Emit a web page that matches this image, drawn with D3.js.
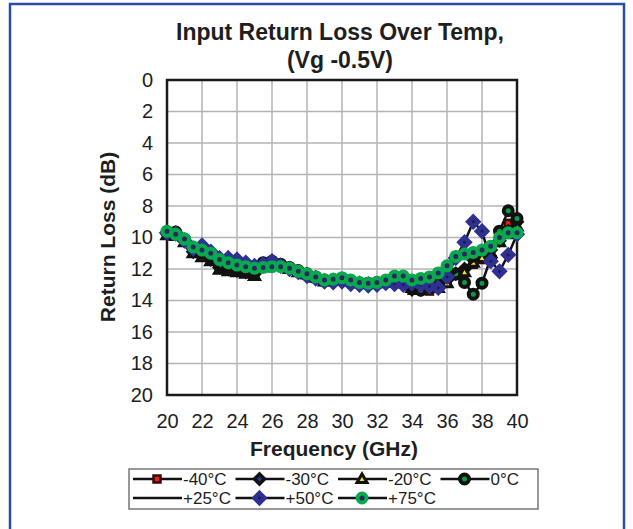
<!DOCTYPE html>
<html>
<head>
<meta charset="utf-8">
<script src="https://cdn.jsdelivr.net/npm/d3@7"></script>
<style>
  body { margin: 0; background: #fff; }
  text { font-family: "Liberation Sans", Arial, sans-serif; fill: #1e1e1e; }
</style>
</head>
<body>
<svg id="chart" width="633" height="529"></svg>
<script>
// frequency points (GHz)
let freqs = [20, 20.5, 21, 21.5, 22, 22.5, 23, 23.5, 24, 24.5, 25, 25.5, 26, 26.5, 27, 27.5,
    28, 28.5, 29, 29.5, 30, 30.5, 31, 31.5, 32, 32.5, 33, 33.5, 34, 34.5, 35, 35.5,
    36, 36.5, 37, 37.5, 38, 38.5, 39, 39.5, 40]

// return loss (dB) per temperature
let m40 = [9.8, 9.8, 10.25, 10.95, 11.2, 11.45, 12.0, 12.1, 12.15,
    12.25, 12.4, 11.8, 11.6, 11.8, 12.0, 12.2, 12.4,
    12.6, 12.8, 12.75, 12.7, 12.85, 12.95, 13.0, 12.95,
    12.9, 12.85, 12.95, 13.35, 13.3, 13.4, 13.2, 12.8,
    12.4, 12.1, 11.7, 11.4, 10.6, 10.0, 9.1, 8.9]
let m30 = [9.75, 9.7, 10.2, 10.9, 11.1, 11.4, 11.9, 12.0, 12.1,
    12.2, 12.3, 11.7, 11.55, 11.75, 11.95, 12.15, 12.35,
    12.55, 12.75, 12.7, 12.7, 12.8, 12.9, 12.95, 12.9,
    12.85, 12.8, 12.9, 13.3, 13.3, 13.2, 13.1, 12.7,
    12.3, 12.0, 11.4, 11.2, 10.8, 10.2, 9.6, 9.0]
let m20 = [9.85, 9.9, 10.3, 11.0, 11.25, 11.5, 12.05, 12.15, 12.2,
    12.3, 12.45, 11.9, 11.65, 11.8, 12.0, 12.2, 12.35,
    12.55, 12.8, 12.75, 12.7, 12.8, 12.9, 12.95, 12.9,
    12.85, 12.8, 12.9, 13.2, 13.1, 13.2, 13.2, 12.9,
    12.4, 12.2, 11.6, 11.3, 11.0, 10.3, 9.8, 9.3]
let p0 = [9.7, 9.65, 10.1, 10.8, 11.0, 11.3, 11.8, 11.9, 12.0,
    12.1, 12.2, 11.6, 11.5, 11.7, 11.9, 12.1, 12.3,
    12.5, 12.7, 12.7, 12.65, 12.8, 12.9, 12.9, 12.85,
    12.8, 12.75, 12.85, 13.2, 13.35, 13.1, 12.9, 12.5,
    12.3, 12.85, 13.6, 12.9, 11.3, 9.6, 8.3, 8.8]
let p25 = [9.8, 9.75, 10.25, 10.95, 11.15, 11.45, 11.95, 12.1, 12.15,
    12.25, 12.35, 11.8, 11.6, 11.8, 12.0, 12.2, 12.35,
    12.55, 12.75, 12.7, 12.7, 12.8, 12.9, 12.95, 12.9,
    12.85, 12.8, 12.9, 13.25, 13.2, 13.15, 13.0, 12.6,
    12.2, 11.9, 11.5, 11.1, 10.8, 10.1, 9.7, 9.2]
let p50 = [9.7, 9.75, 10.2, 10.7, 10.5, 10.9, 11.3, 11.3, 11.4,
    11.6, 11.8, 11.7, 11.5, 11.8, 12.0, 12.2, 12.45,
    12.6, 12.8, 12.85, 12.8, 12.95, 13.0, 13.05, 13.0,
    12.9, 12.95, 13.0, 12.9, 13.0, 13.1, 13.2, 12.5,
    11.3, 10.3, 9.0, 9.6, 11.5, 12.15, 11.1, 9.8]
let p75 = [9.6, 9.8, 10.1, 10.6, 10.8, 11.0, 11.4, 11.6, 11.75,
    11.85, 11.95, 11.9, 11.85, 11.85, 11.95, 12.15, 12.3,
    12.5, 12.7, 12.65, 12.55, 12.7, 12.85, 12.9, 12.85,
    12.7, 12.45, 12.45, 12.7, 12.6, 12.5, 12.25, 11.8,
    11.2, 11.05, 10.95, 10.8, 10.55, 10.0, 9.7, 9.7]

let names = ['-40°C', '-30°C', '-20°C', '0°C', '+25°C', '+50°C', '+75°C']
let xTicks = [20, 22, 24, 26, 28, 30, 32, 34, 36, 38, 40]
let yTicks = [0, 2, 4, 6, 8, 10, 12, 14, 16, 18, 20]

let series = [m40, m30, m20, p0, p25, p50, p75].map((v, i) => ({
    name: names[i],
    kind: ['square', 'diamond', 'triangle', 'circle', 'none', 'bdiamond', 'gcircle'][i],
    values: v.map((d, j) => ({ f: freqs[j], v: d }))
}))

let svg = d3.select('#chart'),
    pLeft = 167, pRight = 517, pTop = 80, pBottom = 395

let x = d3.scaleLinear().domain([20, 40]).range([pLeft, pRight])
let y = d3.scaleLinear().domain([0, 20]).range([pTop, pBottom])

// outer blue frame
svg.append('rect')
    .attr('x', 10).attr('y', 4).attr('width', 614).attr('height', 540)
    .attr('fill', 'none').attr('stroke', '#2b4ca0').attr('stroke-width', 2.5)

// title
svg.append('text').attr('x', 340).attr('y', 40).attr('text-anchor', 'middle')
    .attr('font-size', 23).attr('font-weight', 'bold').text('Input Return Loss Over Temp,')
svg.append('text').attr('x', 340).attr('y', 68).attr('text-anchor', 'middle')
    .attr('font-size', 23).attr('font-weight', 'bold').text('(Vg -0.5V)')

// grid
let grid = svg.append('g')
grid.selectAll('.gx').data(xTicks).enter().append('line')
    .attr('x1', d => x(d)).attr('x2', d => x(d)).attr('y1', pTop).attr('y2', pBottom)
    .attr('stroke', '#b4b4b4').attr('stroke-width', 1.5)
grid.selectAll('.gy').data(yTicks).enter().append('line')
    .attr('y1', d => y(d)).attr('y2', d => y(d)).attr('x1', pLeft).attr('x2', pRight)
    .attr('stroke', '#b4b4b4').attr('stroke-width', 1.5)

// axes (labels only, ticks hidden)
let xAxis = svg.append('g').attr('transform', `translate(0,${pBottom})`)
    .call(d3.axisBottom(x).tickValues(xTicks).tickSize(0).tickPadding(19))
let yAxis = svg.append('g').attr('transform', `translate(${pLeft},0)`)
    .call(d3.axisLeft(y).tickValues(yTicks).tickSize(0).tickPadding(14))
;[xAxis, yAxis].forEach(a => {
    a.select('.domain').remove()
    a.selectAll('text').attr('font-size', 20).attr('font-family', 'Liberation Sans, Arial, sans-serif').attr('fill', '#1e1e1e')
})

svg.append('text').attr('x', 334).attr('y', 456).attr('text-anchor', 'middle')
    .attr('font-size', 21).attr('font-weight', 'bold').text('Frequency (GHz)')
svg.append('text').attr('transform', 'translate(115,237) rotate(-90)').attr('text-anchor', 'middle')
    .attr('font-size', 21).attr('font-weight', 'bold').text('Return Loss (dB)')

// plot border
svg.append('rect').attr('x', pLeft).attr('y', pTop).attr('width', pRight - pLeft).attr('height', pBottom - pTop)
    .attr('fill', 'none').attr('stroke', '#1a1a1a').attr('stroke-width', 2.5)

function drawMarker(g, kind, cx, cy) {
    if (kind === 'square') {
        g.append('rect').attr('x', cx - 3.5).attr('y', cy - 3.5).attr('width', 7).attr('height', 7)
            .attr('fill', '#e0201b').attr('stroke', '#3a0a0a').attr('stroke-width', 2.5)
    } else if (kind === 'diamond') {
        g.append('path').attr('d', `M${cx},${cy - 5}L${cx + 5},${cy}L${cx},${cy + 5}L${cx - 5},${cy}Z`)
            .attr('fill', '#2e3192').attr('stroke', '#111').attr('stroke-width', 3.5)
    } else if (kind === 'triangle') {
        g.append('path').attr('d', `M${cx},${cy - 5}L${cx + 5},${cy + 3.5}L${cx - 5},${cy + 3.5}Z`)
            .attr('fill', '#f7e21a').attr('stroke', '#111').attr('stroke-width', 3)
    } else if (kind === 'circle') {
        g.append('circle').attr('cx', cx).attr('cy', cy).attr('r', 4.5)
            .attr('fill', '#0a9a4a').attr('stroke', '#111').attr('stroke-width', 4)
    } else if (kind === 'bdiamond') {
        g.append('path').attr('d', `M${cx},${cy - 5}L${cx + 5},${cy}L${cx},${cy + 5}L${cx - 5},${cy}Z`)
            .attr('fill', '#1c1c50').attr('stroke', '#2e3192').attr('stroke-width', 4.5)
    } else if (kind === 'gcircle') {
        g.append('circle').attr('cx', cx).attr('cy', cy).attr('r', 4.5)
            .attr('fill', '#2a2a5a').attr('stroke', '#0aa84f').attr('stroke-width', 4)
    }
}

let line = d3.line().x(d => x(d.f)).y(d => y(d.v))
let plot = svg.append('g')
series.forEach(s => {
    let g = plot.append('g')
    g.append('path').datum(s.values).attr('d', line)
        .attr('fill', 'none').attr('stroke', '#111').attr('stroke-width', 2.5)
    s.values.forEach(d => drawMarker(g, s.kind, x(d.f), y(d.v)))
})

// legend
let lg = svg.append('g')
lg.append('rect').attr('x', 129).attr('y', 469).attr('width', 409).attr('height', 40)
    .attr('fill', '#fff').attr('stroke', '#777').attr('stroke-width', 1.5)
series.forEach((s, i) => {
    let col = i % 4, row = Math.floor(i / 4)
    let lx = 133 + col * 102.5, ly = 479 + row * 19
    lg.append('line').attr('x1', lx).attr('x2', lx + 49).attr('y1', ly).attr('y2', ly)
        .attr('stroke', '#111').attr('stroke-width', 2.5)
    drawMarker(lg, s.kind, lx + 24, ly)
    lg.append('text').attr('x', lx + 50).attr('y', ly + 6).attr('font-size', 17).text(s.name)
})
</script>
</body>
</html>
